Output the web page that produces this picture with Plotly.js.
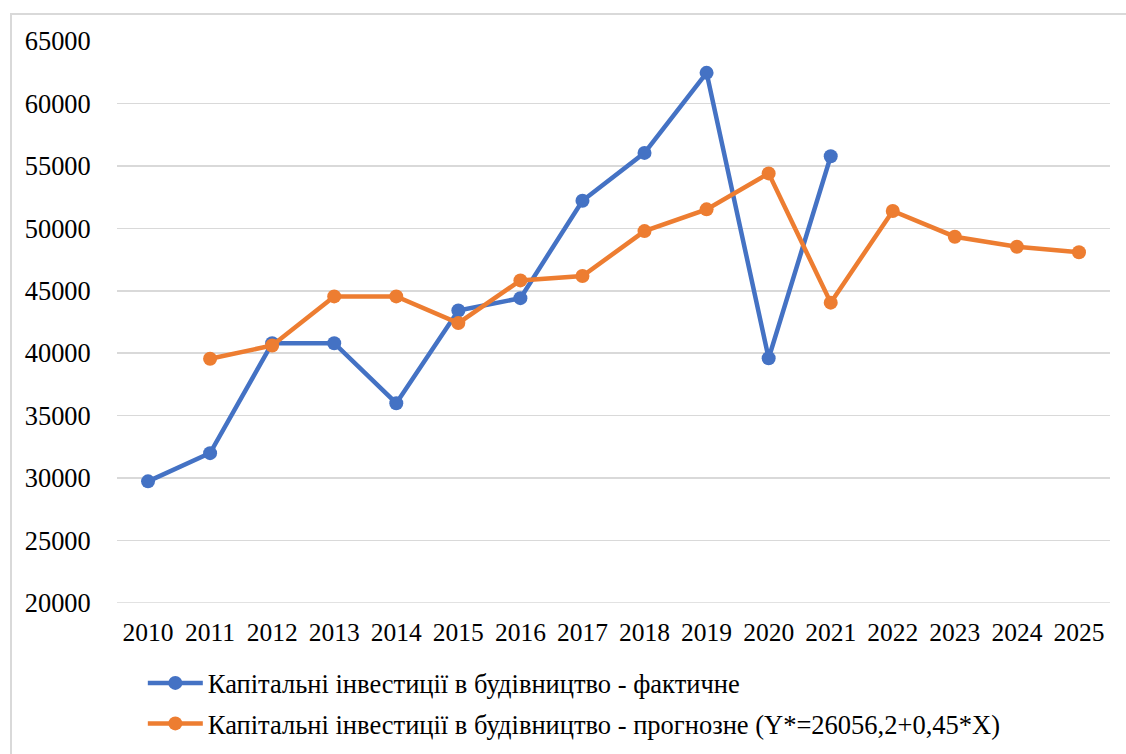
<!DOCTYPE html>
<html>
<head>
<meta charset="utf-8">
<script src="https://cdn.plot.ly/plotly-3.0.1.min.js"></script>
<style>
  html, body { margin: 0; padding: 0; background: #fff; }
  #chart { width: 1126px; height: 754px; position: relative; }
  #frame { position: absolute; left: 10px; top: 13px; width: 1200px; height: 800px;
           border-left: 2px solid #D9D9D9; border-top: 2px solid #D9D9D9; pointer-events: none; }
</style>
</head>
<body>
<div id="chart"></div>
<div id="frame"></div>
<script>
const years = ['2010','2011','2012','2013','2014','2015','2016','2017','2018','2019','2020','2021','2022','2023','2024','2025'];
const actual = [29740, 32000, 40800, 40800, 36000, 43420, 44410, 52210, 56040, 62450, 39600, 55770, null, null, null, null];
const forecast = [null, 39560, 40620, 44550, 44550, 42410, 45830, 46180, 49780, 51520, 54400, 44050, 51390, 49330, 48530, 48080];
const nameActual = 'Капітальні інвестиції в будівництво - фактичне';
const nameForecast = 'Капітальні інвестиції в будівництво - прогнозне (Y*=26056,2+0,45*X)';
const yTicks = [20000, 25000, 30000, 35000, 40000, 45000, 50000, 55000, 60000, 65000];

const font = 'Liberation Serif';

const traces = [
  { x: years, y: actual, name: nameActual, type: 'scatter', mode: 'lines+markers',
    connectgaps: false, legendgroup: 'a',
    line: { color: '#4472C4', width: 4.5 }, marker: { color: '#4472C4', size: 14 } },
  { x: years, y: forecast, name: nameForecast, type: 'scatter', mode: 'lines+markers',
    connectgaps: false, legendgroup: 'b',
    line: { color: '#ED7D31', width: 4.5 }, marker: { color: '#ED7D31', size: 14 } }
];

const layout = {
  width: 1126, height: 754,
  margin: { l: 117, r: 16, t: 41, b: 151, autoexpand: false },
  paper_bgcolor: '#fff', plot_bgcolor: '#fff',
  font: { family: font, size: 26, color: '#000' },
  showlegend: true,
  legend: { orientation: 'v', x: 0.026, y: -0.1, xanchor: 'left', yanchor: 'top',
            font: { family: font, size: 26.5, color: '#000' }, itemwidth: 55,
            traceorder: 'grouped', tracegroupgap: 3,
            bgcolor: 'rgba(0,0,0,0)' },
  xaxis: { type: 'category', tickvals: years, ticktext: years, showgrid: false, zeroline: false,
           showline: false, ticks: 'outside', ticklen: 6, tickcolor: 'rgba(0,0,0,0)',
           range: [-0.5, 15.5], tickfont: { family: font, size: 25.5, color: '#000' } },
  yaxis: { range: [20000, 65000], tickvals: yTicks, ticktext: yTicks.map(String),
           showgrid: true, gridcolor: '#D9D9D9', gridwidth: 1.5, zeroline: false, showline: false,
           ticks: 'outside', ticklen: 20, tickcolor: 'rgba(0,0,0,0)',
           tickfont: { family: font, size: 26.4, color: '#000' } },
  shapes: [{ type: 'line', xref: 'paper', yref: 'y', x0: 0, x1: 1, y0: 20000, y1: 20000,
             line: { color: '#D9D9D9', width: 1.5 }, layer: 'below' }]
};

Plotly.newPlot('chart', traces, layout, { displayModeBar: false, staticPlot: true });
</script>
</body>
</html>
